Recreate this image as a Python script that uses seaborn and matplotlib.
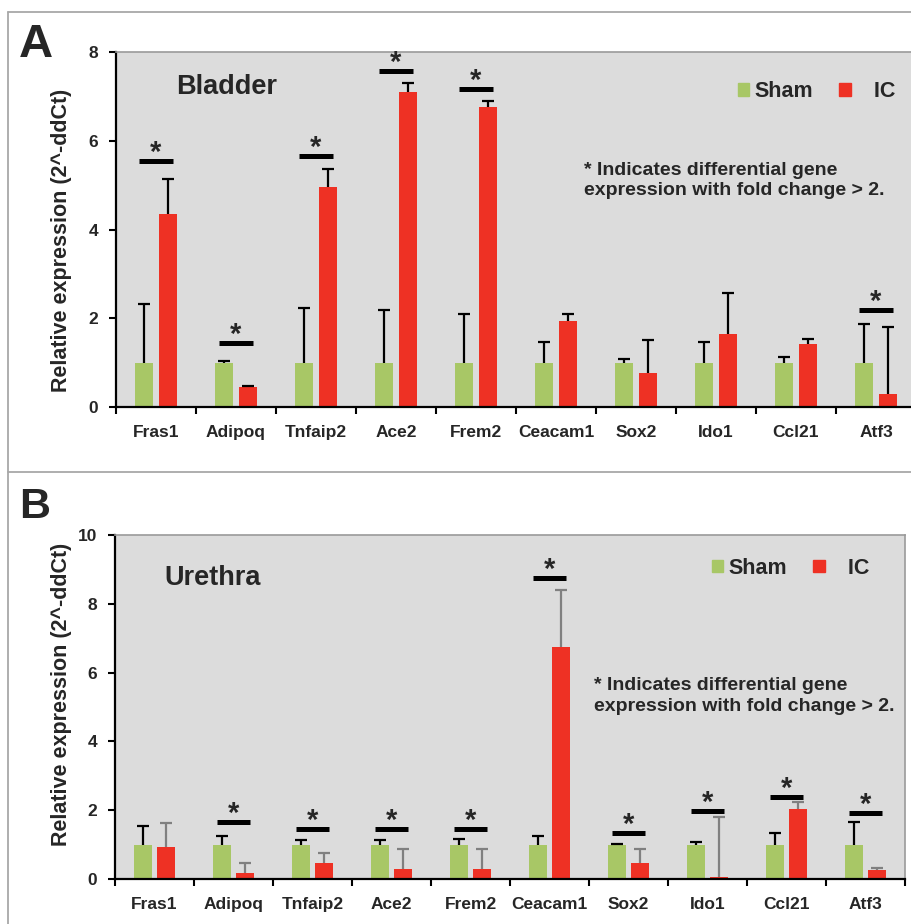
import numpy as np
import pandas as pd
import seaborn as sns
import matplotlib.pyplot as plt
from matplotlib.patches import Patch
from matplotlib.lines import Line2D

genes = ['Fras1', 'Adipoq', 'Tnfaip2', 'Ace2', 'Frem2', 'Ceacam1', 'Sox2', 'Ido1', 'Ccl21', 'Atf3']

# A - bladder
bl_sham = [1.0, 1.0, 1.0, 1.0, 1.0, 1.0, 1.0, 1.0, 1.0, 1.0]
bl_sham_err = [1.32, 0.03, 1.22, 1.19, 1.09, 0.47, 0.08, 0.47, 0.12, 0.88]
bl_ic = [4.35, 0.44, 4.95, 7.10, 6.76, 1.93, 0.77, 1.64, 1.43, 0.29]
bl_ic_err = [0.78, 0.03, 0.41, 0.20, 0.14, 0.16, 0.75, 0.92, 0.11, 1.52]
bl_sig_genes = ['Fras1', 'Adipoq', 'Tnfaip2', 'Ace2', 'Frem2', 'Atf3']
bl_sig_height = [5.55, 1.45, 5.65, 7.57, 7.16, 2.18]

# B - urethra
ur_sham = [1.0, 1.0, 1.0, 1.0, 1.0, 1.0, 1.0, 1.0, 1.0, 1.0]
ur_sham_err = [0.54, 0.25, 0.13, 0.13, 0.16, 0.25, 0.02, 0.08, 0.34, 0.66]
ur_ic = [0.93, 0.17, 0.47, 0.29, 0.29, 6.74, 0.47, 0.05, 2.03, 0.26]
ur_ic_err = [0.70, 0.30, 0.29, 0.58, 0.58, 1.66, 0.40, 1.75, 0.21, 0.06]
ur_sig_genes = ['Adipoq', 'Tnfaip2', 'Ace2', 'Frem2', 'Ceacam1', 'Sox2', 'Ido1', 'Ccl21', 'Atf3']
ur_sig_height = [1.66, 1.45, 1.45, 1.45, 8.75, 1.34, 1.98, 2.38, 1.92]

green = '#a8c766'
red = '#ee3124'
bg = '#dcdcdc'
note = '* Indicates differential gene\nexpression with fold change > 2.'

sns.set_style('white')
plt.rcParams['font.family'] = ['Liberation Sans', 'DejaVu Sans']
plt.rcParams['font.weight'] = 'bold'

W, H = 912, 924
fig = plt.figure(figsize=(W / 100, H / 100), dpi=100)

def px_axes(l, t, r, b):
    return fig.add_axes([l / W, 1 - b / H, (r - l) / W, (b - t) / H])

def draw_panel(ax, sham, sham_err, ic, ic_err, sig_genes, sig_h, ymax, ystep, title, ic_err_col,
               title_xy, note_xy, leg_xy, ylab_xy):
    df = pd.DataFrame({'gene': genes * 2,
                       'group': ['Sham'] * len(genes) + ['IC'] * len(genes),
                       'value': sham + ic})
    sns.barplot(data=df, x='gene', y='value', hue='group', palette=[green, red],
                width=0.58, gap=0.22, errorbar=None, saturation=1, linewidth=0,
                legend=False, ax=ax)
    ax.set_facecolor(bg)

    # upper-only error bars, placed on the bar centres seaborn made
    for cont, vals, errs, col in zip(ax.containers, [sham, ic], [sham_err, ic_err], ['k', ic_err_col]):
        xs = [p.get_x() + p.get_width() / 2 for p in cont]
        eb = ax.errorbar(xs, vals, yerr=[np.zeros(len(errs)), errs], fmt='none', ecolor=col,
                         elinewidth=1.6, capsize=4, capthick=1.6, zorder=3)
        eb[1][0].set_visible(False)  # drop the cap sitting on the bar top

    # significance bars + stars
    for g, h in zip(sig_genes, sig_h):
        i = genes.index(g)
        ax.plot([i - 0.21, i + 0.21], [h, h], color='k', lw=3.6, solid_capstyle='butt', zorder=4)
        ax.annotate('*', (i, h), xytext=(0, 0), textcoords='offset points', ha='center',
                    va='baseline', fontsize=21, fontweight='bold')

    ax.set_xlim(-0.5, len(genes) - 0.5)
    ax.set_ylim(0, ymax)
    ax.set_yticks(np.arange(0, ymax + 0.1, ystep))
    ax.set_xticks(np.arange(len(genes)))
    ax.set_xticks(np.arange(-0.5, len(genes), 1), minor=True)
    ax.tick_params(axis='x', which='major', length=0, pad=13, labelsize=12.5)
    ax.tick_params(axis='x', which='minor', length=5, width=1.5, color='k', direction='out', bottom=True)
    ax.tick_params(axis='y', which='major', length=5, width=1.5, color='k', direction='out',
                   left=True, pad=8, labelsize=12.5)
    for lab in ax.get_xticklabels() + ax.get_yticklabels():
        lab.set_fontweight('bold')
    ax.set_xlabel('')
    ax.set_ylabel('Relative expression (2^-ddCt)', fontsize=15.5, fontweight='bold')
    ax.yaxis.set_label_coords(*ylab_xy)

    for s in ['left', 'bottom']:
        ax.spines[s].set_color('k')
        ax.spines[s].set_linewidth(1.6)
    for s in ['top', 'right']:
        ax.spines[s].set_color('#9a9a9a')
        ax.spines[s].set_linewidth(1.2)

    ax.text(title_xy[0], title_xy[1], title, transform=ax.transAxes, fontsize=19.5,
            fontweight='bold', va='center', ha='left')
    ax.text(note_xy[0], note_xy[1], note, transform=ax.transAxes, fontsize=14,
            fontweight='bold', va='center', ha='left', linespacing=1.25)
    ax.legend(handles=[Patch(color=green, label='Sham'), Patch(color=red, label='   IC')],
              loc='center left', bbox_to_anchor=leg_xy, ncol=2, frameon=False,
              handlelength=0.53, handleheight=0.53, handletextpad=0.25, columnspacing=1.2,
              borderpad=0, borderaxespad=0, prop={'size': 15.5, 'weight': 'bold'})

axA = px_axes(116, 52, 916, 407)
draw_panel(axA, bl_sham, bl_sham_err, bl_ic, bl_ic_err, bl_sig_genes, bl_sig_height, 8, 2,
           'Bladder', 'k', (0.075, 0.901), (0.585, 0.638), (0.7775, 0.889), (-0.055, 0.469))

axB = px_axes(115, 535, 905, 879)
draw_panel(axB, ur_sham, ur_sham_err, ur_ic, ur_ic_err, ur_sig_genes, ur_sig_height, 10, 2,
           'Urethra', '#808080', (0.063, 0.875), (0.606, 0.532), (0.7557, 0.904), (-0.0545, 0.536))

# panel frame lines
fc = '#a8a8a8'
fig.add_artist(Line2D([8 / W, 1], [1 - 12 / H, 1 - 12 / H], color=fc, lw=1.3))
fig.add_artist(Line2D([8 / W, 1], [1 - 472 / H, 1 - 472 / H], color=fc, lw=1.3))
fig.add_artist(Line2D([8 / W, 8 / W], [0, 1 - 12 / H], color=fc, lw=1.3))

fig.text(19 / W, 1 - 57 / H, 'A', fontsize=34, fontweight='bold', va='baseline')
fig.text(19 / W, 1 - 518 / H, 'B', fontsize=31, fontweight='bold', va='baseline')

plt.savefig('out.png', dpi=100)
